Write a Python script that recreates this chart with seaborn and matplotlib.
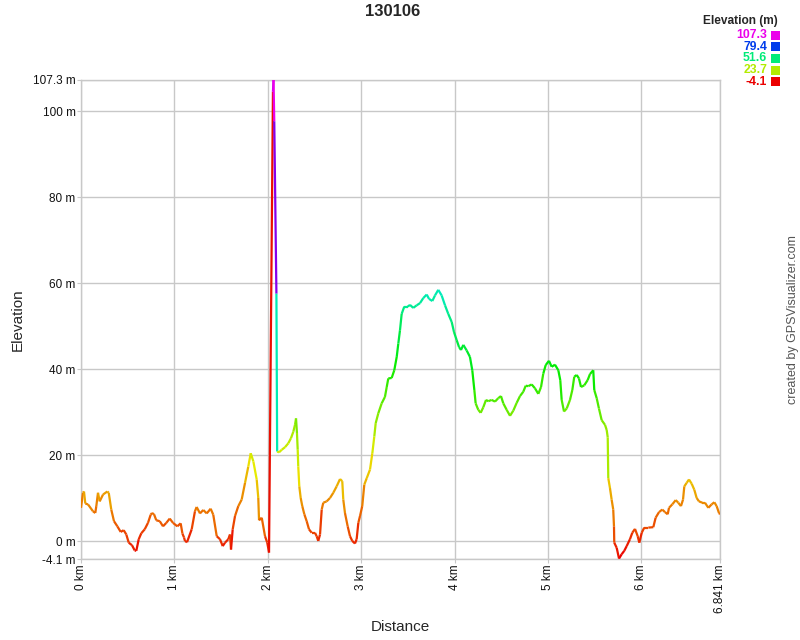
import numpy as np
import matplotlib
matplotlib.use("Agg")
import matplotlib.pyplot as plt
import seaborn as sns
from matplotlib.collections import LineCollection
from matplotlib.colors import ListedColormap, Normalize, hsv_to_rgb
from matplotlib.patches import Rectangle

title = "130106"
distance_km = [
    0.000, 0.021, 0.032, 0.046, 0.075, 0.128, 0.153, 0.164, 0.182, 0.200,
    0.236, 0.282, 0.297, 0.324, 0.353, 0.389, 0.425, 0.457, 0.485, 0.511,
    0.546, 0.575, 0.592, 0.618, 0.646, 0.682, 0.717, 0.746, 0.760, 0.782,
    0.806, 0.843, 0.878, 0.913, 0.950, 0.985, 1.031, 1.067, 1.086, 1.103,
    1.113, 1.135, 1.185, 1.220, 1.238, 1.274, 1.309, 1.346, 1.388, 1.416,
    1.453, 1.488, 1.517, 1.542, 1.577, 1.595, 1.606, 1.624, 1.649, 1.684,
    1.720, 1.756, 1.791, 1.817, 1.845, 1.881, 1.898, 1.906, 1.935, 1.970,
    1.994, 2.013, 2.055, 2.061, 2.069, 2.092, 2.100, 2.120, 2.149, 2.184,
    2.219, 2.248, 2.273, 2.291, 2.302, 2.312, 2.320, 2.326, 2.337, 2.352,
    2.369, 2.391, 2.416, 2.441, 2.470, 2.505, 2.523, 2.540, 2.559, 2.577,
    2.594, 2.630, 2.666, 2.701, 2.737, 2.773, 2.797, 2.808, 2.826, 2.855,
    2.880, 2.904, 2.933, 2.951, 2.969, 2.987, 3.011, 3.033, 3.059, 3.094,
    3.119, 3.140, 3.155, 3.183, 3.219, 3.254, 3.273, 3.290, 3.326, 3.354,
    3.380, 3.397, 3.415, 3.433, 3.461, 3.498, 3.522, 3.557, 3.594, 3.629,
    3.665, 3.701, 3.726, 3.761, 3.790, 3.825, 3.861, 3.897, 3.932, 3.969,
    3.993, 4.022, 4.047, 4.068, 4.093, 4.129, 4.164, 4.189, 4.211, 4.225,
    4.253, 4.279, 4.307, 4.336, 4.360, 4.397, 4.432, 4.467, 4.496, 4.521,
    4.557, 4.593, 4.628, 4.664, 4.700, 4.735, 4.761, 4.789, 4.825, 4.860,
    4.896, 4.925, 4.949, 4.975, 5.010, 5.039, 5.074, 5.110, 5.131, 5.146,
    5.171, 5.200, 5.235, 5.260, 5.281, 5.307, 5.331, 5.353, 5.388, 5.424,
    5.449, 5.484, 5.495, 5.521, 5.545, 5.574, 5.610, 5.628, 5.639, 5.645,
    5.663, 5.681, 5.698, 5.706, 5.709, 5.735, 5.760, 5.788, 5.816, 5.842,
    5.877, 5.902, 5.931, 5.960, 5.977, 6.003, 6.030, 6.073, 6.127, 6.152,
    6.188, 6.223, 6.252, 6.281, 6.295, 6.330, 6.367, 6.394, 6.423, 6.445,
    6.459, 6.484, 6.509, 6.538, 6.566, 6.591, 6.616, 6.651, 6.680, 6.716,
    6.751, 6.780, 6.805, 6.830, 6.841,
]
elevation_m = [
    7.8, 11.3, 11.6, 8.8, 8.6, 7.0, 6.6, 8.2, 11.3, 9.3,
    10.9, 11.6, 11.3, 7.4, 4.7, 3.5, 2.2, 2.6, 1.6, -0.3,
    -0.9, -2.1, -2.2, 0.5, 1.9, 2.8, 4.3, 6.2, 6.6, 6.3,
    4.9, 4.7, 3.5, 4.3, 5.3, 4.3, 3.5, 4.2, 1.8, 0.9,
    0.1, -0.2, 2.8, 7.0, 8.0, 6.5, 7.3, 6.5, 7.6, 6.2,
    1.2, 0.5, -1.1, -0.3, 0.5, 1.6, -1.9, 2.8, 5.9, 8.2,
    9.7, 13.6, 17.4, 20.5, 18.6, 14.4, 10.1, 4.9, 5.5, 1.2,
    -0.3, -2.6, 104.6, 107.3, 97.7, 57.6, 20.9, 20.7, 21.3, 21.9,
    22.8, 24.0, 25.5, 27.1, 28.6, 25.2, 21.3, 17.4, 12.8, 10.1,
    8.2, 6.3, 4.7, 2.8, 2.0, 2.0, 1.2, 0.1, 1.6, 7.4,
    9.0, 9.3, 10.1, 11.3, 12.8, 14.5, 14.0, 9.7, 6.6, 3.5,
    1.2, 0.1, -0.5, 0.5, 4.3, 5.9, 8.2, 13.2, 14.7, 16.7,
    20.5, 24.4, 27.5, 29.8, 32.1, 33.6, 35.9, 37.9, 38.0, 39.8,
    42.9, 46.0, 49.1, 52.9, 54.6, 54.6, 55.0, 54.3, 54.9, 55.4,
    56.6, 57.4, 56.4, 55.9, 57.2, 58.5, 57.2, 54.9, 52.9, 51.0,
    48.7, 46.8, 45.2, 44.5, 45.7, 44.4, 42.9, 39.8, 35.2, 32.1,
    30.6, 29.9, 31.2, 32.9, 32.6, 32.9, 32.5, 33.3, 33.8, 32.1,
    30.6, 29.2, 30.4, 32.2, 33.8, 34.8, 36.2, 36.1, 36.5, 35.6,
    34.3, 35.9, 39.0, 41.0, 42.0, 40.6, 41.1, 39.8, 37.5, 32.9,
    30.2, 30.9, 32.9, 35.2, 38.3, 38.7, 37.9, 35.9, 36.3, 37.5,
    38.9, 39.8, 35.2, 33.3, 30.9, 28.2, 27.1, 25.9, 24.2, 14.7,
    12.4, 9.7, 7.4, 3.5, -0.3, -1.5, -4.0, -3.0, -2.2, -1.1,
    0.5, 2.0, 2.9, 1.2, -0.3, 2.0, 3.2, 3.2, 3.3, 5.5,
    6.8, 7.4, 6.8, 6.3, 7.8, 8.6, 9.6, 9.0, 8.2, 9.7,
    12.8, 13.6, 14.4, 13.4, 12.0, 10.1, 9.3, 9.0, 9.0, 7.8,
    8.6, 9.1, 8.2, 6.6, 6.3,
]
x_ticks = [0, 1, 2, 3, 4, 5, 6]
x_max = 6.841
y_ticks = [0, 20, 40, 60, 80, 100]
y_min, y_max = -4.1, 107.3
legend_values = [107.3, 79.4, 51.6, 23.7, -4.1]

sns.set_style("white")
plt.rcParams['font.family'] = ['Liberation Sans', 'DejaVu Sans']

hues = np.linspace(0, 300 / 360, 256)
cmap = ListedColormap(hsv_to_rgb(np.column_stack([hues, np.ones(256), np.full(256, 0.92)])))
norm = Normalize(y_min, y_max)

fig = plt.figure(figsize=(8, 6.4), dpi=100)
ax = fig.add_axes([81 / 800, 1 - 559 / 640, (720 - 81) / 800, (559 - 80) / 640])

x = np.array(distance_km)
y = np.array(elevation_m)
pts = np.column_stack([x, y]).reshape(-1, 1, 2)
segs = np.concatenate([pts[:-1], pts[1:]], axis=1)
lc = LineCollection(segs, cmap=cmap, norm=norm, linewidth=1.6, zorder=3)
lc.set_array(y[:-1])
ax.add_collection(lc)

ax.set_xlim(0, x_max)
ax.set_ylim(y_min, y_max)
xt = x_ticks + [x_max]
ax.set_xticks(xt)
ax.set_xticklabels([f"{v:g} km" for v in xt], rotation=90)
yt = [y_min] + y_ticks + [y_max]
ax.set_yticks(yt)
ax.set_yticklabels([f"{v:g} m" for v in yt])
ax.grid(True, color='#c8c8c8', linewidth=1, zorder=0)
for s in ax.spines.values():
    s.set_color('#c8c8c8')
    s.set_linewidth(1)
ax.tick_params(left=True, bottom=True, length=3, color='#c8c8c8',
               labelsize=8.5, pad=0.8, labelcolor='#111111')

ax.set_xlabel("Distance", fontsize=11)
ax.set_ylabel("Elevation", fontsize=11)
ax.xaxis.set_label_coords(0.5, (559 - 620) / 479)
ax.yaxis.set_label_coords((25 - 81) / 639, 0.5)

fig.text(393 / 800, 1 - 12 / 640, title, ha='center', va='center',
         fontsize=12, fontweight='bold')

# legend
fig.text(778 / 800, 1 - 21 / 640, "Elevation (m)", ha='right', va='center',
         fontsize=8.6, fontweight='bold')
row_y = [35, 46.7, 58.3, 70, 81.7]
for v, ry in zip(legend_values, row_y):
    c = cmap(norm(v))
    fig.text(767 / 800, 1 - ry / 640, f"{v:g}", ha='right', va='center',
             fontsize=8.8, fontweight='bold', color=c)
    fig.patches.append(Rectangle((771 / 800, 1 - (ry + 4.5) / 640), 9 / 800, 9 / 640,
                                 transform=fig.transFigure, facecolor=c, edgecolor='none'))

fig.text(793 / 800, 1 - 320 / 640, "created by GPSVisualizer.com", rotation=90,
         ha='center', va='center', fontsize=9, color='#555555')

fig.savefig("out.png", dpi=100)
